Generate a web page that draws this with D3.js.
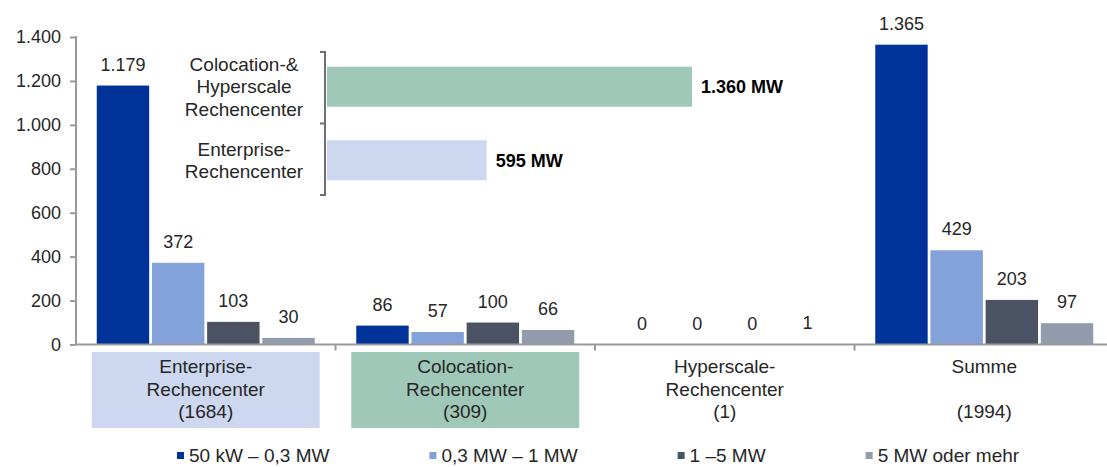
<!DOCTYPE html>
<html>
<head>
<meta charset="utf-8">
<script src="https://cdn.jsdelivr.net/npm/d3@7"></script>
<style>
  html, body { margin: 0; padding: 0; background: #fff; }
  svg { display: block; font-family: "Liberation Sans", Arial, sans-serif; }
</style>
</head>
<body>
<svg id="chart" width="1107" height="467"></svg>
<script>
// Rechenzentren nach Anschlussleistung
const categories = ["Enterprise", "Colocation", "Hyperscale", "Summe"];
const categoryLines = [
  ["Enterprise-", "Rechencenter", "(1684)"],
  ["Colocation-", "Rechencenter", "(309)"],
  ["Hyperscale-", "Rechencenter", "(1)"],
  ["Summe", "", "(1994)"]
];
const series = ["50 kW – 0,3 MW", "0,3 MW – 1 MW", "1 –5 MW", "5 MW oder mehr"];
const values50kW = [1179, 86, 0, 1365];
const values03MW = [372, 57, 0, 429];
const values1MW = [103, 100, 0, 203];
const values5MW = [30, 66, 1, 97];
const yTicks = [0, 200, 400, 600, 800, 1000, 1200, 1400];

// Gesamtleistung je Rechenzentrumstyp
const insetCategories = ["ColoHyper", "Enterprise"];
const insetLines = [["Colocation-&", "Hyperscale", "Rechencenter"], ["Enterprise-", "Rechencenter"]];
const insetValues = [1360, 595];

const seriesValues = [values50kW, values03MW, values1MW, values5MW];
const seriesColors = ["#003399", "#84a2da", "#4a5263", "#929bac"];
const boxColors = { Enterprise: "#cdd7ef", Colocation: "#9fc8b8" };
const insetColors = { ColoHyper: "#9fc8b8", Enterprise: "#cdd7ef" };

const de = d3.formatLocale({ decimal: ",", thousands: ".", grouping: [3], currency: ["", " €"] });
const fmt = de.format(",d");

const svg = d3.select("#chart");
const textColor = "#262626";
const axisColor = "#9a9a9a";

const x0 = d3.scaleBand().domain(categories).range([76, 1114]).paddingInner(0.16).paddingOuter(0.08);
const x1 = d3.scaleBand().domain(series).range([0, x0.bandwidth()]).paddingInner(0.05);
const y = d3.scaleLinear().domain([0, 1400]).range([344.5, 37]);

// bars
const rows = [];
categories.forEach((c, ci) => series.forEach((s, si) => rows.push({ c, s, si, v: seriesValues[si][ci] })));

svg.append("g").selectAll("rect").data(rows).join("rect")
  .attr("x", d => x0(d.c) + x1(d.s))
  .attr("width", x1.bandwidth())
  .attr("y", d => y(d.v))
  .attr("height", d => y(0) - y(d.v))
  .attr("fill", d => seriesColors[d.si]);

svg.append("g").selectAll("text").data(rows).join("text")
  .attr("x", d => x0(d.c) + x1(d.s) + x1.bandwidth() / 2)
  .attr("y", d => y(d.v) - 15)
  .attr("text-anchor", "middle")
  .attr("font-size", 18)
  .attr("fill", textColor)
  .text(d => fmt(d.v));

// y axis
const yAxis = svg.append("g").attr("transform", "translate(76,0)")
  .call(d3.axisLeft(y).tickValues(yTicks).tickSize(6).tickPadding(9).tickFormat(fmt));
yAxis.select(".domain").attr("stroke", axisColor).attr("stroke-width", 2).attr("d", `M0,${y(1400) - 1}V${y(0)}`);
yAxis.selectAll(".tick line").attr("stroke", axisColor).attr("stroke-width", 2);
yAxis.selectAll(".tick text").attr("font-size", 18).attr("fill", textColor)
  .attr("font-family", "Liberation Sans, Arial, sans-serif");

// x axis baseline with ticks between categories
const xAxis = svg.append("g");
xAxis.append("line").attr("x1", 75).attr("x2", 1107).attr("y1", y(0)).attr("y2", y(0))
  .attr("stroke", axisColor).attr("stroke-width", 2);
xAxis.selectAll("line.sep").data(categories.slice(1)).join("line").attr("class", "sep")
  .attr("x1", d => x0(d) - x0.step() * x0.paddingInner() / 2)
  .attr("x2", d => x0(d) - x0.step() * x0.paddingInner() / 2)
  .attr("y1", y(0)).attr("y2", y(0) + 6)
  .attr("stroke", axisColor).attr("stroke-width", 2);

// category label boxes and text
const catG = svg.append("g").selectAll("g").data(categories).join("g");
catG.filter(d => boxColors[d]).append("rect")
  .attr("x", d => x0(d) - 5)
  .attr("width", x0.bandwidth() + 10)
  .attr("y", 352).attr("height", 76)
  .attr("fill", d => boxColors[d]);
catG.each(function (d, i) {
  const g = d3.select(this);
  categoryLines[i].forEach((line, li) => {
    g.append("text")
      .attr("x", x0(d) + x0.bandwidth() / 2)
      .attr("y", 373 + li * 22.5)
      .attr("text-anchor", "middle")
      .attr("font-size", 19)
      .attr("fill", textColor)
      .text(line);
  });
});

// inset: total power per data centre type
const ix = d3.scaleLinear().domain([0, 1360]).range([327, 692]);
const iy = d3.scaleBand().domain(insetCategories).range([52, 195]).paddingInner(0.456).paddingOuter(0.2);
const inset = svg.append("g");
inset.append("path")
  .attr("d", `M320,52H325V195H320M320,${(52 + 195) / 2}H325`)
  .attr("fill", "none").attr("stroke", "#6f6f6f").attr("stroke-width", 2);
inset.selectAll("rect").data(insetCategories).join("rect")
  .attr("x", ix(0))
  .attr("y", d => iy(d))
  .attr("width", (d, i) => ix(insetValues[i]) - ix(0))
  .attr("height", iy.bandwidth())
  .attr("fill", d => insetColors[d]);
inset.selectAll("text.val").data(insetCategories).join("text").attr("class", "val")
  .attr("x", (d, i) => ix(insetValues[i]) + 9)
  .attr("y", d => iy(d) + iy.bandwidth() / 2 + 6.5)
  .attr("font-size", 18).attr("font-weight", "bold").attr("fill", "#000")
  .text((d, i) => `${fmt(insetValues[i])} MW`);
insetCategories.forEach((d, i) => {
  const lines = insetLines[i];
  const cy = iy(d) + iy.bandwidth() / 2;
  lines.forEach((line, li) => {
    inset.append("text")
      .attr("x", 244)
      .attr("y", cy + (li - (lines.length - 1) / 2) * 22.5 + 6.5)
      .attr("text-anchor", "middle")
      .attr("font-size", 19)
      .attr("fill", textColor)
      .text(line);
  });
});

// legend
const legend = svg.append("g");
let lx = 177;
series.forEach((s, i) => {
  legend.append("rect").attr("x", lx).attr("y", 452).attr("width", 7).attr("height", 7)
    .attr("fill", seriesColors[i]);
  const t = legend.append("text").attr("x", lx + 12).attr("y", 462)
    .attr("font-size", 19).attr("fill", textColor).text(s);
  lx += 12 + t.node().getComputedTextLength() + 100;
});
</script>
</body>
</html>
